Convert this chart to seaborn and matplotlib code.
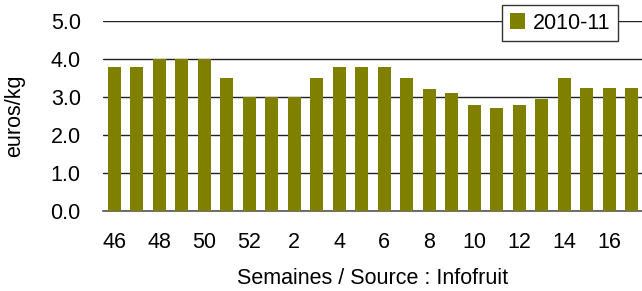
import numpy as np
import pandas as pd
import seaborn as sns
import matplotlib.pyplot as plt

# weekly prices, season 2010-11
weeks = [46, 47, 48, 49, 50, 51, 52, 1, 2, 3, 4, 5, 6, 7, 8, 9, 10, 11, 12, 13, 14, 15, 16, 17]
prices = [3.8, 3.8, 4.0, 4.0, 4.0, 3.5, 3.0, 3.0, 3.0, 3.5, 3.8, 3.8, 3.8, 3.5,
          3.2, 3.1, 2.8, 2.7, 2.8, 2.95, 3.5, 3.25, 3.25, 3.25]
season = "2010-11"

df = pd.DataFrame({"semaine": [str(w) for w in weeks], "prix": prices, "saison": season})

sns.set_style("white")
plt.rcParams['font.family'] = ['Liberation Sans', 'DejaVu Sans']
plt.rcParams['text.color'] = 'black'
plt.rcParams['axes.labelcolor'] = 'black'
plt.rcParams['xtick.color'] = 'black'
plt.rcParams['ytick.color'] = 'black'

fs = 15.5

fig = plt.figure(figsize=(6.42, 2.91), dpi=100)
ax = fig.add_axes([103/642, 80/291, 540/642, 190/291])

sns.barplot(data=df, x="semaine", y="prix", hue="saison", palette=["#808000"],
            width=0.59, ax=ax, saturation=1, linewidth=0)
for p in ax.patches:
    p.set_zorder(3)

ax.set_ylim(0, 5)
ax.set_yticks(np.arange(0, 5.01, 1.0))
ax.set_yticklabels([f"{v:.1f}" for v in np.arange(0, 5.01, 1.0)])
ax.yaxis.grid(True, color="#222222", linewidth=1)
ax.set_axisbelow(True)
ax.set_xlim(-0.5, len(weeks) - 0.5)

# labels every other week, tick marks between bars
ax.set_xticks(range(0, len(weeks), 2))
ax.set_xticklabels([str(w) for w in weeks[::2]])
ax.set_xticks(np.arange(-0.5, len(weeks), 1), minor=True)
ax.tick_params(axis="x", which="major", length=0, pad=15, labelsize=fs)
ax.tick_params(axis="x", which="minor", length=7, width=1, color="#555555", direction="out")
ax.tick_params(axis="y", length=0, pad=16, labelsize=fs)

for s in ["top", "right", "left"]:
    ax.spines[s].set_visible(False)
ax.spines["bottom"].set_color("#555555")
ax.spines["bottom"].set_linewidth(1.2)

ax.set_xlabel("Semaines / Source : Infofruit", fontsize=fs, labelpad=11)
ax.set_ylabel("euros/kg", fontsize=fs, labelpad=18)

leg = ax.legend(loc="upper right", bbox_to_anchor=(618/642, 1 - 5/291),
                bbox_transform=fig.transFigure, fontsize=fs,
                frameon=True, fancybox=False, edgecolor="#333333", framealpha=1,
                handlelength=0.72, handleheight=0.72, handletextpad=0.35,
                borderpad=0.35, borderaxespad=0)
leg.get_frame().set_linewidth(1)

fig.savefig("out.png", dpi=100)
